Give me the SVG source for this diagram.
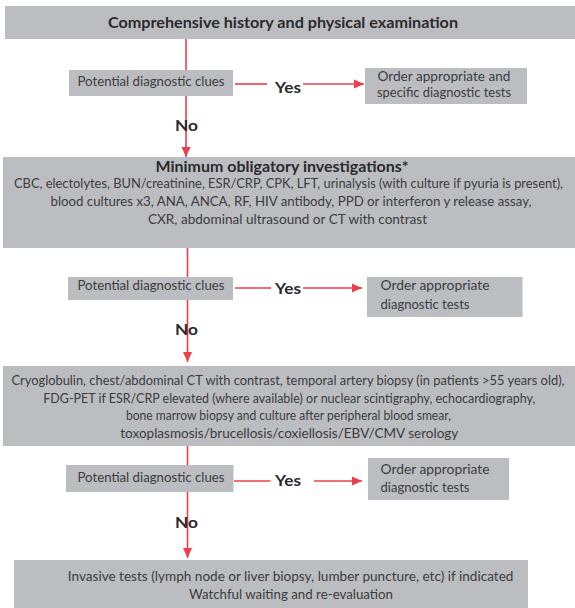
<svg xmlns="http://www.w3.org/2000/svg" width="575" height="608" viewBox="0 0 575 608">
<defs>
<style>
.box{fill:#bcbdc1}
.t{font-family:Lato,"Open Sans","Liberation Sans",sans-serif;font-size:13px;fill:#3b3b3d}
.b{font-family:Lato,"Open Sans","Liberation Sans",sans-serif;font-weight:bold;fill:#2a2a2c}
.c{text-anchor:middle}
.ln{stroke:#ec3f4b;stroke-width:1.6;fill:none}
</style>
<marker id="ah" markerUnits="userSpaceOnUse" markerWidth="10" markerHeight="10" viewBox="0 0 10 10" refX="10" refY="5" orient="auto">
<path d="M0,0.5 L10,5 L0,9.5 Z" fill="#ec3f4b"/>
</marker>
</defs>
<rect width="575" height="608" fill="#ffffff"/>
<g id="connectors">
<line class="ln" x1="186" y1="39" x2="186" y2="157" marker-end="url(#ah)"/>
<line class="ln" x1="235" y1="84" x2="267" y2="84"/>
<line class="ln" x1="303" y1="84" x2="364" y2="84" marker-end="url(#ah)"/>
<line class="ln" x1="187.5" y1="248" x2="187.5" y2="362" marker-end="url(#ah)"/>
<line class="ln" x1="235" y1="288" x2="271" y2="288"/>
<line class="ln" x1="303" y1="288" x2="362" y2="288" marker-end="url(#ah)"/>
<line class="ln" x1="187.5" y1="446" x2="187.5" y2="558" marker-end="url(#ah)"/>
<line class="ln" x1="234" y1="481" x2="270.5" y2="481"/>
<line class="ln" x1="314" y1="481" x2="362" y2="481" marker-end="url(#ah)"/>
<text class="b" x="275" y="92.5" font-size="15" textLength="26" lengthAdjust="spacingAndGlyphs">Yes</text>
<text class="b" x="175" y="131" font-size="15" textLength="23" lengthAdjust="spacingAndGlyphs">No</text>
<text class="b" x="275" y="294" font-size="15" textLength="26" lengthAdjust="spacingAndGlyphs">Yes</text>
<text class="b" x="175" y="335" font-size="15" textLength="23" lengthAdjust="spacingAndGlyphs">No</text>
<text class="b" x="275" y="486" font-size="15" textLength="26" lengthAdjust="spacingAndGlyphs">Yes</text>
<text class="b" x="175" y="528" font-size="15" textLength="23" lengthAdjust="spacingAndGlyphs">No</text>
</g>
<g id="start">
<rect class="box" x="5" y="6" width="570" height="33"/>
<text class="b c" x="283" y="28" font-size="16" textLength="350" lengthAdjust="spacingAndGlyphs">Comprehensive history and physical examination</text>
</g>
<g id="clues1">
<rect class="box" x="69" y="70" width="164" height="26"/>
<text class="t c" x="151" y="86" textLength="147" lengthAdjust="spacingAndGlyphs">Potential diagnostic clues</text>
</g>
<g id="order1">
<rect class="box" x="365" y="68" width="162" height="36"/>
<text class="t c" x="444" y="80.5" textLength="133" lengthAdjust="spacingAndGlyphs">Order appropriate and</text>
<text class="t c" x="444" y="97" textLength="134" lengthAdjust="spacingAndGlyphs">specific diagnostic tests</text>
</g>
<g id="minimum">
<rect class="box" x="3" y="157" width="572" height="91"/>
<text class="b c" x="282" y="172" font-size="15" textLength="253" lengthAdjust="spacingAndGlyphs">Minimum obligatory investigations*</text>
<text class="t c" x="288.5" y="188" textLength="549" lengthAdjust="spacingAndGlyphs">CBC, electolytes, BUN/creatinine, ESR/CRP, CPK, LFT, urinalysis (with culture if pyuria is present),</text>
<text class="t c" x="291" y="206" textLength="481" lengthAdjust="spacingAndGlyphs">blood cultures x3, ANA, ANCA, RF, HIV antibody, PPD or interferon y release assay,</text>
<text class="t c" x="287.5" y="224" textLength="279" lengthAdjust="spacingAndGlyphs">CXR, abdominal ultrasound or CT with contrast</text>
</g>
<g id="clues2">
<rect class="box" x="68" y="277" width="165" height="23"/>
<text class="t c" x="151" y="290" textLength="147" lengthAdjust="spacingAndGlyphs">Potential diagnostic clues</text>
</g>
<g id="order2">
<rect class="box" x="367" y="277" width="155.5" height="40"/>
<text class="t" x="380.5" y="290" textLength="109" lengthAdjust="spacingAndGlyphs">Order appropriate</text>
<text class="t" x="380.5" y="308.5" textLength="89" lengthAdjust="spacingAndGlyphs">diagnostic tests</text>
</g>
<g id="second-line">
<rect class="box" x="3" y="366" width="572" height="80"/>
<text class="t c" x="288" y="385" textLength="553" lengthAdjust="spacingAndGlyphs">Cryoglobulin, chest/abdominal CT with contrast, temporal artery biopsy (in patients &gt;55 years old),</text>
<text class="t c" x="289.3" y="402.7" textLength="492" lengthAdjust="spacingAndGlyphs">FDG-PET if ESR/CRP elevated (where available) or nuclear scintigraphy, echocardiography,</text>
<text class="t c" x="288.4" y="420.3" textLength="325" lengthAdjust="spacingAndGlyphs">bone marrow biopsy and culture after peripheral blood smear,</text>
<text class="t c" x="289.3" y="437.8" textLength="338" lengthAdjust="spacingAndGlyphs">toxoplasmosis/brucellosis/coxiellosis/EBV/CMV serology</text>
</g>
<g id="clues3">
<rect class="box" x="66" y="465" width="167.5" height="27"/>
<text class="t c" x="151" y="481.7" textLength="147" lengthAdjust="spacingAndGlyphs">Potential diagnostic clues</text>
</g>
<g id="order3">
<rect class="box" x="368" y="458" width="141" height="42"/>
<text class="t" x="380.5" y="474.3" textLength="109" lengthAdjust="spacingAndGlyphs">Order appropriate</text>
<text class="t" x="380.5" y="491.7" textLength="89" lengthAdjust="spacingAndGlyphs">diagnostic tests</text>
</g>
<g id="final">
<rect class="box" x="14" y="560" width="514" height="48"/>
<text class="t c" x="290.6" y="580.7" textLength="445.6" lengthAdjust="spacingAndGlyphs">Invasive tests (lymph node or liver biopsy, lumber puncture, etc) if indicated</text>
<text class="t c" x="291" y="599.3" textLength="204" lengthAdjust="spacingAndGlyphs">Watchful waiting and re-evaluation</text>
</g>
</svg>
